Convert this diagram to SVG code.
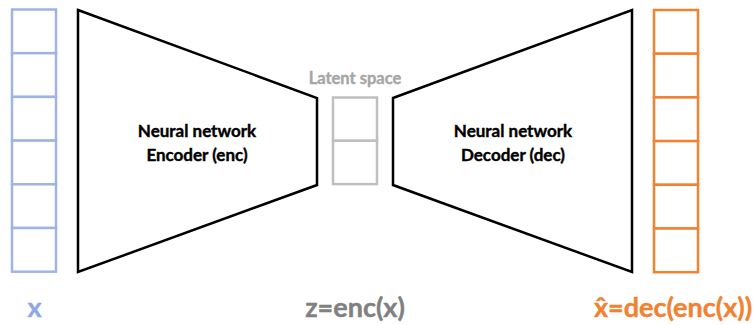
<svg xmlns="http://www.w3.org/2000/svg" width="754" height="325" viewBox="0 0 754 325">
  <style>
    .cell { fill: #ffffff; stroke-width: 2.5; }
    .in { stroke: #9fb4e4; }
    .out { stroke: #f08232; }
    .lat { stroke: #bfbfbf; }
    .net { fill: #ffffff; stroke: #000000; stroke-width: 2.5; stroke-linejoin: miter; }
    text { font-family: Lato, "Open Sans", "Liberation Sans", sans-serif; font-weight: bold; stroke-width: 0.4; }
    .netlabel { font-size: 17px; fill: #000000; stroke: #000000; text-anchor: middle; }
  </style>
  <rect width="754" height="325" fill="#ffffff"/>

  <!-- input vector x -->
  <g id="input">
    <rect class="cell in" x="12" y="9.5" width="44" height="43.7"/>
    <rect class="cell in" x="12" y="53.2" width="44" height="43.7"/>
    <rect class="cell in" x="12" y="96.9" width="44" height="43.7"/>
    <rect class="cell in" x="12" y="140.6" width="44" height="43.7"/>
    <rect class="cell in" x="12" y="184.3" width="44" height="43.7"/>
    <rect class="cell in" x="12" y="228" width="44" height="43.7"/>
  </g>

  <!-- encoder network -->
  <g id="encoder">
    <polygon class="net" points="78,10 317,98 317,185 78,272"/>
    <text class="netlabel" x="197" y="137">Neural network</text>
    <text class="netlabel" x="197" y="161">Encoder (enc)</text>
  </g>

  <!-- latent code z -->
  <g id="latent">
    <text x="355" y="84" font-size="16.5" fill="#a6a6a6" stroke="#a6a6a6" text-anchor="middle">Latent space</text>
    <rect class="cell lat" x="333" y="97.5" width="44" height="43.3"/>
    <rect class="cell lat" x="333" y="140.8" width="44" height="43.3"/>
  </g>

  <!-- decoder network -->
  <g id="decoder">
    <polygon class="net" points="393,98 632,10 632,272 393,185"/>
    <text class="netlabel" x="513" y="137">Neural network</text>
    <text class="netlabel" x="513" y="161">Decoder (dec)</text>
  </g>

  <!-- reconstruction x-hat -->
  <g id="output">
    <rect class="cell out" x="654" y="10" width="44" height="43.7"/>
    <rect class="cell out" x="654" y="53.7" width="44" height="43.7"/>
    <rect class="cell out" x="654" y="97.4" width="44" height="43.7"/>
    <rect class="cell out" x="654" y="141.1" width="44" height="43.7"/>
    <rect class="cell out" x="654" y="184.8" width="44" height="43.7"/>
    <rect class="cell out" x="654" y="228.5" width="44" height="43.7"/>
  </g>

  <!-- equations under each stage -->
  <g id="labels">
    <text x="34.5" y="317" font-size="27" fill="#8fa9e0" stroke="#8fa9e0" text-anchor="middle">x</text>
    <text x="355" y="317" font-size="27" fill="#808080" stroke="#808080" text-anchor="middle">z=enc(x)</text>
    <text x="673" y="317" font-size="27" fill="#f08232" stroke="#f08232" text-anchor="middle">x̂=dec(enc(x))</text>
  </g>
</svg>
